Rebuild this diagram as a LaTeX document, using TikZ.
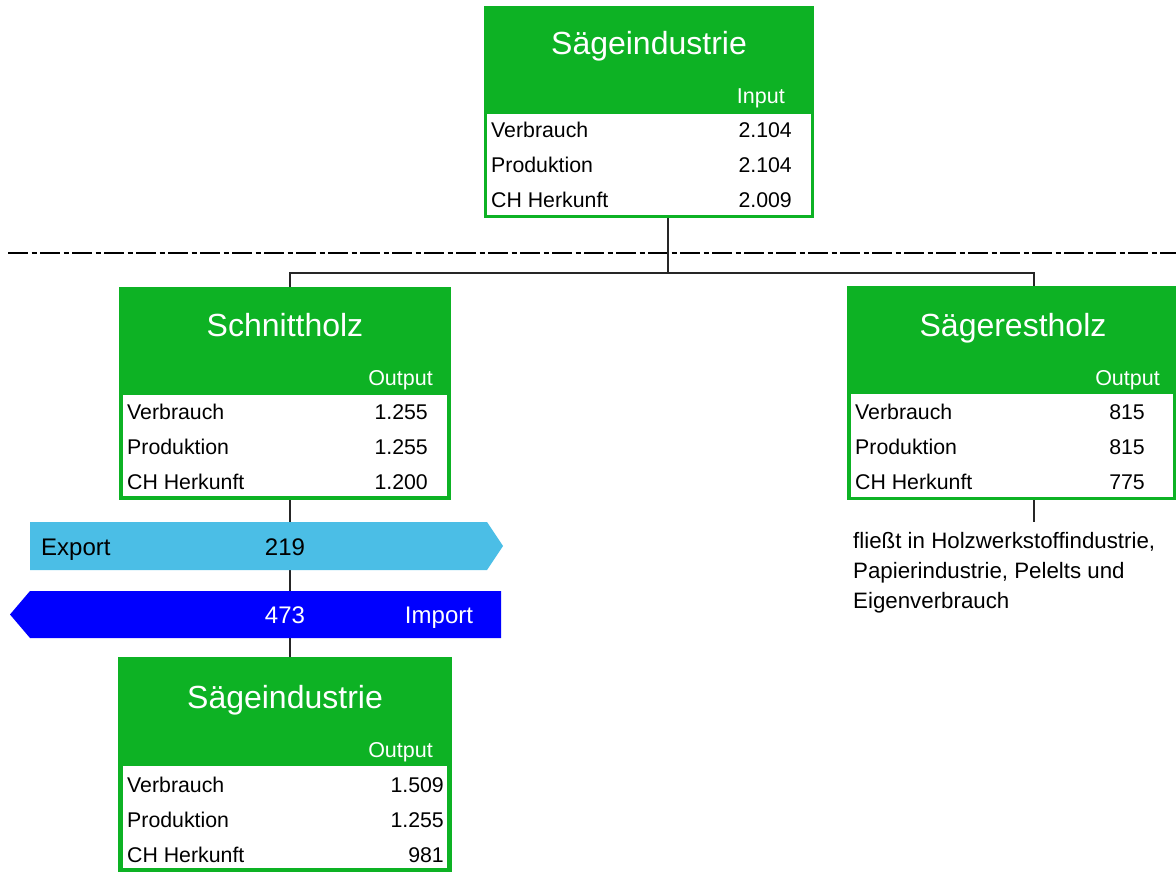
\documentclass[tikz,border=0pt]{standalone}
\usepackage{fontspec}
\setmainfont{Liberation Sans}
\definecolor{gr}{RGB}{13,178,36}
\definecolor{lb}{RGB}{75,190,230}
\definecolor{db}{RGB}{0,0,255}
\begin{document}
\begin{tikzpicture}[x=1pt,y=-1pt,
  gbox/.style={fill=gr, draw=none, inner sep=0pt},
  ttl/.style={text=white, inner sep=0pt, text height=23, text depth=0, font=\fontsize{32}{38}\selectfont},
  hd/.style={text=white, anchor=east, inner sep=0pt, text height=15, text depth=0, font=\fontsize{21.5}{26}\selectfont},
  lbl/.style={anchor=west, inner sep=0pt, text height=15, text depth=0, font=\fontsize{21.3}{25}\selectfont},
  num/.style={anchor=east, inner sep=0pt, text height=15, text depth=0, font=\fontsize{21.3}{25}\selectfont},
  arr/.style={inner sep=0pt, text height=17, text depth=0, font=\fontsize{24}{28}\selectfont},
  cx/.style={draw=black!85, line width=1.5pt}]
\useasboundingbox (0,0) rectangle (1176,872);

% dash-dot line
\draw[line width=2.5pt, dash pattern=on 20pt off 3.5pt on 5pt off 3.5pt] (8,253) -- (1176,253);

% top box
\node[gbox, minimum width=330, minimum height=212] (top) at (649,112) {};
\fill[white] (487,114) rectangle (811,215);
\node[ttl] (topT) at (649,43) {Sägeindustrie};
\node[hd] (topH) at (785,96) {Input};
\node[lbl] (topL1) at (491,130) {Verbrauch};
\node[lbl] (topL2) at (491,165) {Produktion};
\node[lbl] (topL3) at (491,200) {CH Herkunft};
\node[num] (topN1) at (792,130) {2.104};
\node[num] (topN2) at (792,165) {2.104};
\node[num] (topN3) at (792,200) {2.009};

% Schnittholz
\node[gbox, minimum width=332, minimum height=213] (schnitt) at (285,393.5) {};
\fill[white] (123,395) rectangle (447,496);
\node[ttl] (sT) at (285,325) {Schnittholz};
\node[hd] (sH) at (433,378) {Output};
\node[lbl] (sL1) at (127,412) {Verbrauch};
\node[lbl] (sL2) at (127,447) {Produktion};
\node[lbl] (sL3) at (127,482) {CH Herkunft};
\node[num] (sN1) at (428,412) {1.255};
\node[num] (sN2) at (428,447) {1.255};
\node[num] (sN3) at (428,482) {1.200};

% Saegerestholz
\node[gbox, minimum width=329, minimum height=214] (rest) at (1011.5,393) {};
\fill[white] (851,394) rectangle (1173,497);
\node[ttl] (rT) at (1013,325) {Sägerestholz};
\node[hd] (rH) at (1160,378) {Output};
\node[lbl] (rL1) at (855,412) {Verbrauch};
\node[lbl] (rL2) at (855,447) {Produktion};
\node[lbl] (rL3) at (855,482) {CH Herkunft};
\node[num] (rN1) at (1145,412) {815};
\node[num] (rN2) at (1145,447) {815};
\node[num] (rN3) at (1145,482) {775};

% bottom box
\node[gbox, minimum width=334, minimum height=215] (bot) at (285,764.5) {};
\fill[white] (123,766) rectangle (447,868);
\node[ttl] (bT) at (285,697) {Sägeindustrie};
\node[hd] (bH) at (433,750) {Output};
\node[lbl] (bL1) at (127,785) {Verbrauch};
\node[lbl] (bL2) at (127,820) {Produktion};
\node[lbl] (bL3) at (127,855) {CH Herkunft};
\node[num] (bN1) at (444,785) {1.509};
\node[num] (bN2) at (444,820) {1.255};
\node[num] (bN3) at (444,855) {981};

% connectors
\coordinate (split) at (668,273);
\coordinate (noteTop) at (1034,522);
\draw[cx] (top.south -| split) -- (split);
\draw[cx] ([xshift=5pt]schnitt.north) |- (split) -| ([xshift=22.5pt]rest.north);
\draw[cx] ([xshift=22.5pt]rest.south) -- (noteTop);
\draw[cx] ([xshift=5pt]schnitt.south) -- ([xshift=5pt]bot.north);

% export / import arrows
\fill[lb] (30,522) -- (487,522) -- (503,546) -- (487,570) -- (30,570) -- cycle;
\node[arr, anchor=west] (expL) at (41,547) {Export};
\node[arr] (expN) at (285,547) {219};
\fill[db] (501,591) -- (30,591) -- (10,614.5) -- (30,638) -- (501,638) -- cycle;
\node[arr, text=white] (impN) at (285,615) {473};
\node[arr, text=white] (impL) at (439,615) {Import};

% note
\node[anchor=north west, inner sep=0pt, align=left, font=\fontsize{22.3}{30}\selectfont] (note) at (853,532)
  {fließt in Holzwerkstoffindustrie,\\Papierindustrie, Pelelts und\\Eigenverbrauch};
\end{tikzpicture}
\end{document}
